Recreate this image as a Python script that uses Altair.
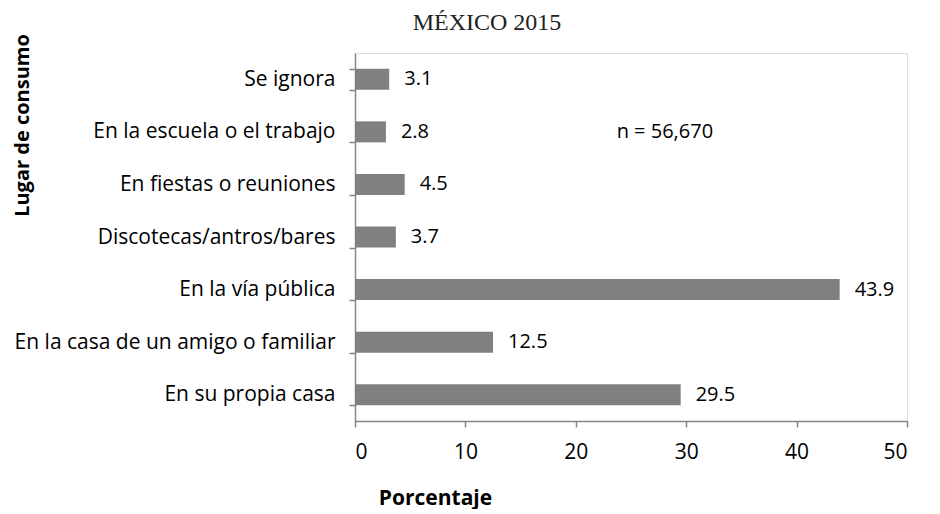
import altair as alt
import pandas as pd

categories = [
    "Se ignora",
    "En la escuela o el trabajo",
    "En fiestas o reuniones",
    "Discotecas/antros/bares",
    "En la vía pública",
    "En la casa de un amigo o familiar",
    "En su propia casa",
]
values = [3.1, 2.8, 4.5, 3.7, 43.9, 12.5, 29.5]
x_ticks = [0, 10, 20, 30, 40, 50]
title_text = "MÉXICO 2015"
note_text = "n = 56,670"
note_category = "En la escuela o el trabajo"
note_x = 23.7

df = pd.DataFrame({"lugar": categories, "pct": values})
df["label"] = [f"{v:.1f}" for v in values]

FONT = "Open Sans"
GRAY = "#868686"

y_enc = alt.Y(
    "lugar:N",
    sort=categories,
    scale=alt.Scale(paddingInner=0.6, paddingOuter=0.3),
    axis=alt.Axis(
        title="Lugar de consumo",
        titleFont="Open Sans",
        titleFontWeight="bold",
        titleFontSize=20,
        titleColor="black",
        titleAngle=-90,
        titleX=-333,
        titleY=72,
        titleAlign="center",
        titleBaseline="middle",
        labelFont=FONT,
        labelFontSize=21,
        labelColor="black",
        labelPadding=14,
        tickBand="extent",
        tickSize=6,
        tickColor=GRAY,
        tickWidth=1.5,
        domainColor=GRAY,
        domainWidth=1.5,
        labelLimit=400,
    ),
)

x_enc = alt.X(
    "pct:Q",
    scale=alt.Scale(domain=[0, 50], nice=False),
    axis=alt.Axis(
        values=x_ticks,
        title="Porcentaje",
        titleFont="Open Sans",
        titleFontWeight="bold",
        titleFontSize=21,
        titleColor="black",
        titleX=80,
        titleY=77,
        titleAlign="center",
        titleBaseline="middle",
        labelFont=FONT,
        labelFontSize=21,
        labelColor="black",
        labelPadding=14,
        tickSize=6,
        tickColor=GRAY,
        tickWidth=1.5,
        domainColor=GRAY,
        domainWidth=1.5,
        grid=False,
    ),
)

bars = alt.Chart(df).mark_bar(color="#808080").encode(y=y_enc, x=x_enc)

labels = alt.Chart(df).mark_text(
    align="left", baseline="middle", dx=15, font=FONT, fontSize=20, color="black"
).encode(
    y=alt.Y("lugar:N", sort=categories),
    x=alt.X("pct:Q"),
    text="label:N",
)

note = alt.Chart(pd.DataFrame({"lugar": [note_category], "pct": [note_x], "t": [note_text]})).mark_text(
    align="left", baseline="middle", font=FONT, fontSize=20, color="black"
).encode(
    y=alt.Y("lugar:N", sort=categories),
    x=alt.X("pct:Q"),
    text="t:N",
)

title = alt.Chart(pd.DataFrame({"t": [title_text]})).mark_text(
    align="center", baseline="alphabetic", font="Liberation Serif", fontSize=24, color="#222222"
).encode(
    x=alt.value(132),
    y=alt.value(-23),
    text="t:N",
)

chart = (
    alt.layer(bars, labels, note, title)
    .properties(
        width=552,
        height=368,
        autosize=alt.AutoSizeParams(type="none"),
        padding={"left": 347, "top": 45, "right": 25, "bottom": 88},
    )
    .configure_view(stroke=None)
    .configure(background="white")
)

chart.save("out.html", embed_options={"renderer": "svg", "actions": False})
